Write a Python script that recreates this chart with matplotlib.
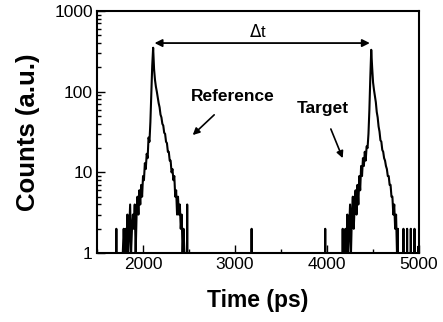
import numpy as np
import matplotlib.pyplot as plt
from matplotlib.ticker import LogLocator, NullFormatter, MultipleLocator

plt.rcParams['font.family'] = ['Liberation Sans', 'DejaVu Sans']

# time bins (ps), 10 ps wide
bin_width = 10
t_min, t_max = 1500, 5000

# reference pulse, counts per bin starting at 1700 ps
ref_start = 1700
ref_counts = [0, 2, 0, 0, 0, 0, 0, 0, 1, 2,
              1, 2, 1, 3, 1, 2, 4, 1, 2, 3,
              2, 4, 1, 3, 5, 3, 6, 4, 7, 5,
              9, 8, 13, 11, 17, 15, 27, 24, 42, 95,
              210, 350, 190, 140, 115, 100, 85, 72, 64, 52,
              48, 40, 38, 31, 30, 24, 23, 18, 18, 14,
              14, 10, 11, 8, 9, 5, 6, 3, 5, 3,
              4, 2, 3, 1, 2, 1, 0, 0, 4, 0]

# target pulse, counts per bin starting at 4150 ps
tgt_start = 4150
tgt_counts = [0, 0, 2, 0, 1, 2, 0, 3, 1, 2,
              4, 1, 3, 5, 2, 4, 6, 3, 7, 4,
              9, 6, 12, 9, 15, 12, 18, 14, 21, 20,
              30, 60, 150, 330, 200, 130, 105, 88, 74, 56,
              48, 37, 32, 25, 24, 19, 18, 15, 14, 12,
              11, 9, 9, 7, 7, 5, 5, 3, 4, 2,
              3, 1, 2, 0]

# stray single counts
stray_times = [3180, 3980, 4830, 4870, 4910, 4950, 4990]
stray_counts = [2, 2, 2, 2, 2, 2, 1.2]

t = np.arange(t_min, t_max + bin_width, bin_width)
counts = np.zeros(len(t))
i0 = (ref_start - t_min) // bin_width
counts[i0:i0 + len(ref_counts)] = ref_counts
i0 = (tgt_start - t_min) // bin_width
counts[i0:i0 + len(tgt_counts)] = tgt_counts
for ts, c in zip(stray_times, stray_counts):
    counts[(ts - t_min) // bin_width] = c

fig = plt.figure(figsize=(4.43, 3.22), dpi=100)
ax = fig.add_axes([0.219, 0.214, 0.727, 0.752])

ax.plot(t, counts, color='black', lw=1.5)
ax.set_yscale('log')
ax.set_xlim(t_min, t_max)
ax.set_ylim(1, 1000)

ax.set_xticks([2000, 3000, 4000, 5000])
ax.xaxis.set_minor_locator(MultipleLocator(500))
ax.yaxis.set_minor_locator(LogLocator(base=10, subs=np.arange(2, 10)))
ax.yaxis.set_minor_formatter(NullFormatter())
ax.set_yticks([1, 10, 100, 1000])
ax.set_yticklabels(['1', '10', '100', '1000'])

ax.tick_params(which='both', direction='in', top=False, right=False,
               labelsize=12.5, width=1.0, pad=3)
ax.tick_params(which='major', length=6)
ax.tick_params(which='minor', length=3)
for s in ax.spines.values():
    s.set_linewidth(1.5)

ax.set_xlabel('Time (ps)', fontsize=16.5, fontweight='bold', labelpad=12)
ax.set_ylabel('Counts (a.u.)', fontsize=18.5, fontweight='bold', labelpad=10)

# delta t arrow between the two peaks
ax.annotate('', xy=(2125, 400), xytext=(4465, 400),
            arrowprops=dict(arrowstyle='<|-|>', color='black', lw=1.3,
                            mutation_scale=11, shrinkA=0, shrinkB=0))
ax.text(3250, 440, r'$\Delta$t', fontsize=12, ha='center', va='bottom')

ax.annotate('Reference', xy=(2540, 29), xytext=(2980, 86),
            fontsize=12.5, fontweight='bold', ha='center', va='center',
            arrowprops=dict(arrowstyle='-|>', color='black', lw=1.2,
                            mutation_scale=10, shrinkA=8, shrinkB=0))
ax.annotate('Target', xy=(4170, 15), xytext=(3950, 62),
            fontsize=12.5, fontweight='bold', ha='center', va='center',
            arrowprops=dict(arrowstyle='-|>', color='black', lw=1.2,
                            mutation_scale=10, shrinkA=8, shrinkB=0))

fig.savefig('out.png', dpi=100)
